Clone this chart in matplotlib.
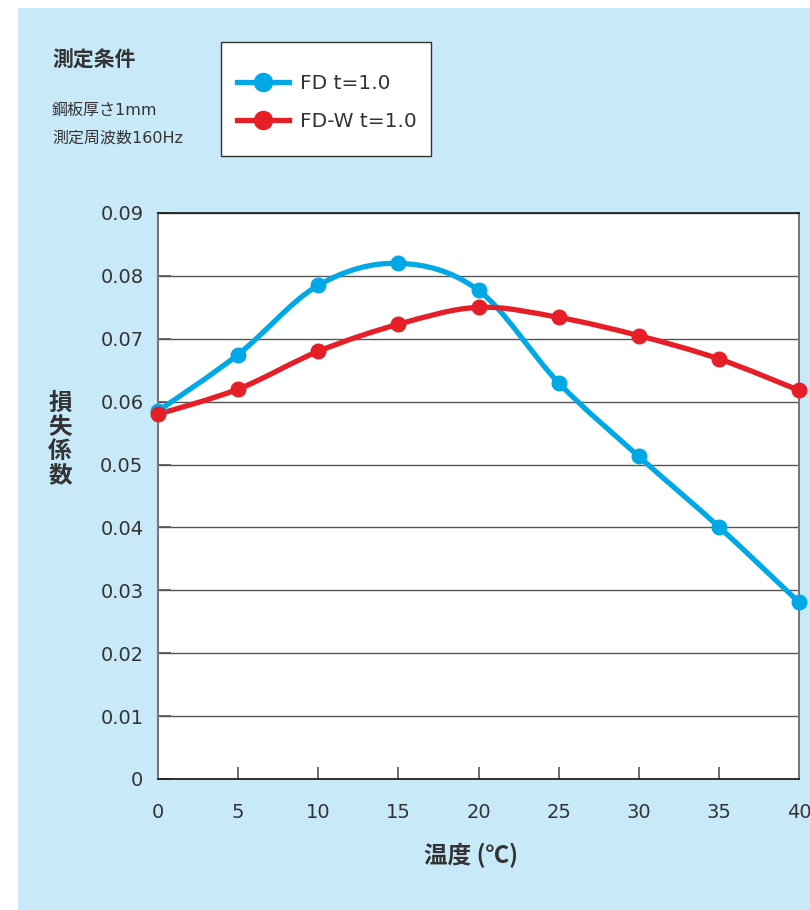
import matplotlib
matplotlib.use('Agg')
import matplotlib.pyplot as plt
from matplotlib.path import Path
from matplotlib.patches import PathPatch, Rectangle
from matplotlib.lines import Line2D
import numpy as np

plt.rcParams['font.family'] = ['DejaVu Sans', 'Noto Sans CJK JP']

temps = [0, 5, 10, 15, 20, 25, 30, 35, 40]
fd = [0.0585, 0.0675, 0.0785, 0.082, 0.0777, 0.063, 0.0513, 0.0401, 0.0281]
fdw = [0.058, 0.062, 0.068, 0.0723, 0.075, 0.0734, 0.0705, 0.0668, 0.0618]
yticks = [0, 0.01, 0.02, 0.03, 0.04, 0.05, 0.06, 0.07, 0.08, 0.09]
ytick_labels = ['0', '0.01', '0.02', '0.03', '0.04', '0.05', '0.06', '0.07', '0.08', '0.09']
xticks = [0, 5, 10, 15, 20, 25, 30, 35, 40]
series_names = ['FD t=1.0', 'FD-W t=1.0']

BLUE = '#00a9e6'
RED = '#e61e28'
PANEL = '#c8e9f8'
TXT = '#333333'


def smooth_path(x, y):
    # Excel-style smoothed line: cubic bezier through every point
    pts = np.column_stack([x, y]).astype(float)
    n = len(pts)
    verts = [pts[0]]
    codes = [Path.MOVETO]
    for i in range(n - 1):
        p0 = pts[i - 1] if i > 0 else pts[i]
        p1 = pts[i]
        p2 = pts[i + 1]
        p3 = pts[i + 2] if i + 2 < n else pts[i + 1]
        c1 = p1 + (p2 - p0) / 6.0
        c2 = p2 - (p3 - p1) / 6.0
        verts += [c1, c2, p2]
        codes += [Path.CURVE4] * 3
    return Path(verts, codes)


fig = plt.figure(figsize=(8.1, 9.1), dpi=100)
fig.patch.set_facecolor('white')
fig.patches.append(Rectangle((18 / 810, 0), 1, 1 - 8 / 910, transform=fig.transFigure,
                             facecolor=PANEL, edgecolor='none', zorder=-10))

ax = fig.add_axes([158 / 810, 131 / 910, 641 / 810, 566 / 910])
ax.set_facecolor('white')
ax.set_xlim(0, 40)
ax.set_ylim(0, 0.09)

for vals, col in [(fd, BLUE), (fdw, RED)]:
    ax.add_patch(PathPatch(smooth_path(temps, vals), facecolor='none', edgecolor=col,
                           lw=3.8, capstyle='round', joinstyle='round', zorder=3, clip_on=False))
    ax.plot(temps, vals, ls='none', marker='o', ms=10.5, color=col, zorder=4, clip_on=False)

ax.set_yticks(yticks)
ax.set_yticklabels(ytick_labels)
ax.set_xticks(xticks)
ax.set_xticklabels([str(t) for t in xticks])
ax.tick_params(axis='both', direction='in', length=9, width=1.2, color='#555555',
               labelsize=14, labelcolor=TXT)
ax.tick_params(axis='y', pad=10.5)
ax.tick_params(axis='x', pad=17)
ax.yaxis.grid(True, color='#555555', lw=1.0)
ax.set_axisbelow(True)
for s in ['top', 'bottom']:
    ax.spines[s].set_color('#222222')
    ax.spines[s].set_linewidth(1.3)
for s in ['left', 'right']:
    ax.spines[s].set_color('#777777')
    ax.spines[s].set_linewidth(1.5)

fig.text(471 / 810, 1 - 855 / 910, '温度 (℃)', ha='center', va='center',
         fontsize=17, fontweight='bold', color=TXT, family='Noto Sans CJK JP')
fig.text(60 / 810, 1 - 439 / 910, '\n'.join('損失係数'), ha='center', va='center',
         fontsize=17, fontweight='bold', color=TXT, linespacing=1.0,
         family='Noto Sans CJK JP')

fig.text(52 / 810, 1 - 60 / 910, '測定条件', ha='left', va='center',
         fontsize=15, fontweight='bold', color=TXT, family='Noto Sans CJK JP')
fig.text(52 / 810, 1 - 110 / 910, '鋼板厚さ1mm', ha='left', va='center',
         fontsize=11.5, color=TXT)
fig.text(52 / 810, 1 - 138 / 910, '測定周波数160Hz', ha='left', va='center',
         fontsize=11.5, color=TXT)

# legend frame drawn separately so its size matches the reference
fig.patches.append(Rectangle((221 / 810, 1 - 156 / 910), 210 / 810, 114 / 910,
                             transform=fig.transFigure, facecolor='white',
                             edgecolor='#333333', lw=1.0, zorder=5))
handles = [Line2D([], [], color=BLUE, lw=3.8, marker='o', ms=13),
           Line2D([], [], color=RED, lw=3.8, marker='o', ms=13)]
leg = fig.legend(handles, series_names, loc='upper left',
                 bbox_to_anchor=(237 / 810, 1 - 74 / 910), fontsize=14.5,
                 frameon=False, handlelength=2.6, borderpad=0, labelspacing=0.95,
                 handletextpad=0.55, borderaxespad=0)
leg.set_zorder(6)
for t in leg.get_texts():
    t.set_color(TXT)

fig.savefig('out.png', dpi=100, facecolor=fig.get_facecolor())
